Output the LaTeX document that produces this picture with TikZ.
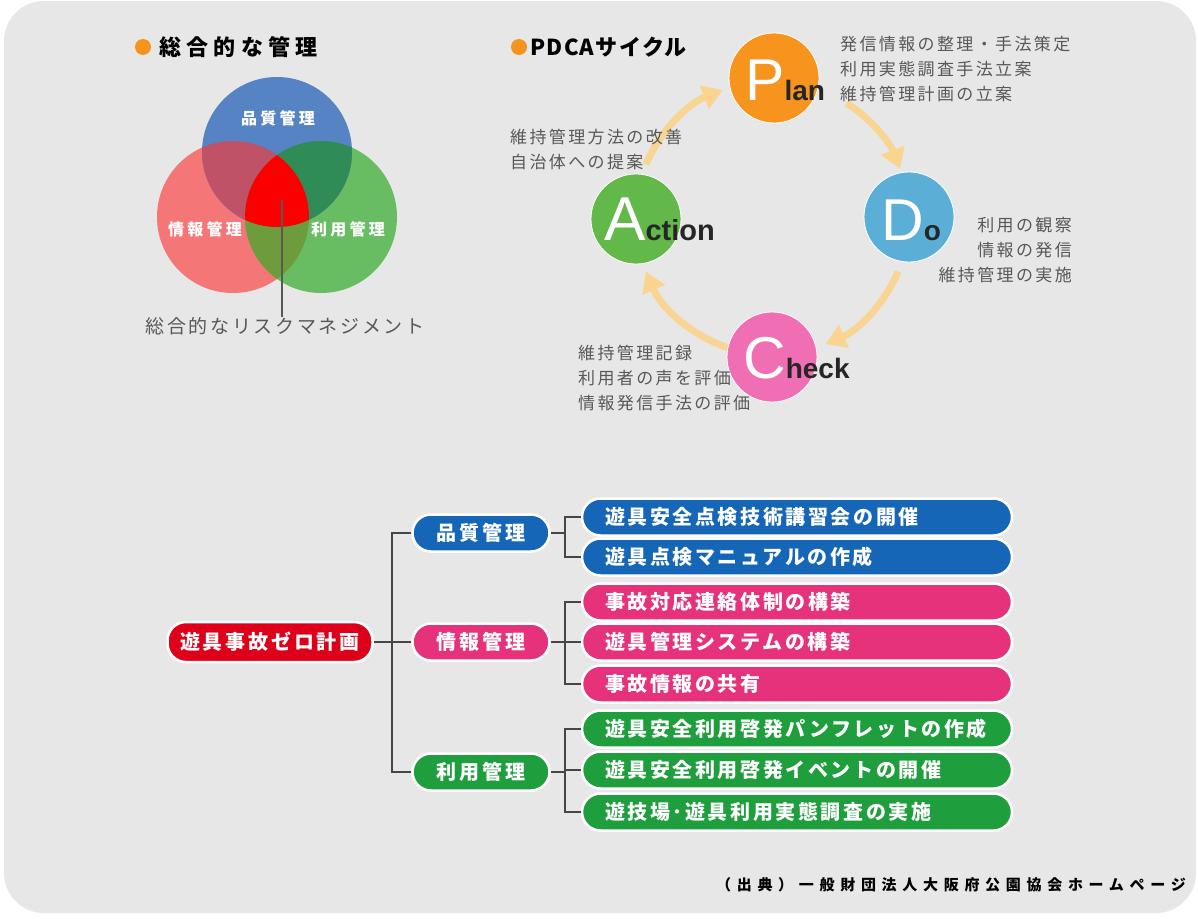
\documentclass[tikz,border=0pt]{standalone}
\usepackage{fontspec}
\setmainfont{Liberation Sans}
\newfontfamily\jp{Noto Sans CJK JP}
\usetikzlibrary{arrows.meta,calc}
\definecolor{bg}{RGB}{231,231,231}
\definecolor{bullet}{RGB}{247,148,29}
\definecolor{vblue}{RGB}{86,131,196}
\definecolor{vred}{RGB}{245,118,118}
\definecolor{vgreen}{RGB}{104,188,98}
\definecolor{vrb}{RGB}{192,82,104}
\definecolor{vgb}{RGB}{48,140,86}
\definecolor{vrg}{RGB}{110,156,60}
\definecolor{vcen}{RGB}{250,0,0}
\definecolor{desc}{RGB}{88,88,88}
\definecolor{cP}{RGB}{247,148,29}
\definecolor{cD}{RGB}{91,175,214}
\definecolor{cC}{RGB}{240,110,180}
\definecolor{cA}{RGB}{98,184,72}
\definecolor{arr}{RGB}{252,212,140}
\definecolor{tblue}{RGB}{22,102,184}
\definecolor{tpink}{RGB}{230,50,122}
\definecolor{tgreen}{RGB}{30,158,60}
\definecolor{tred}{RGB}{222,0,26}
\definecolor{conn}{RGB}{70,70,70}
\tikzset{
  pill/.style={rectangle, rounded corners=18.5pt, minimum height=37pt, draw=white, line width=2.5pt,
     text=white, inner sep=0pt, font=\jp\bfseries\fontsize{20}{20}\selectfont\addfontfeature{LetterSpace=14}},
  leaf/.style={pill, minimum width=430pt, text width=384pt, align=left, inner xsep=23pt,
     font=\jp\bfseries\fontsize{20}{20}\selectfont\addfontfeature{LetterSpace=13}},
  cyc/.style={circle, minimum size=90pt, inner sep=0pt, draw=white, line width=0.8pt},
  big/.style={anchor=base west, inner sep=0pt},
  dtext/.style={text=desc, inner sep=0pt, align=left, font=\jp\fontsize{17}{25}\selectfont\addfontfeature{LetterSpace=14}},
  cyarrow/.style={draw=arr, line width=7pt, -{Triangle[width=24pt,length=20pt]}, opacity=0.9},
  tline/.style={draw=conn, line width=2.5pt},
  vlab/.style={text=white, inner sep=0pt, font=\jp\bfseries\fontsize{16}{16}\selectfont\addfontfeature{LetterSpace=20}},
  ttl/.style={anchor=west, inner sep=0pt, font=\jp\bfseries\fontsize{22}{22}\selectfont\addfontfeature{LetterSpace=24}},
  dot/.style={circle, fill=bullet, minimum size=16pt, inner sep=0pt}
}
\begin{document}
\begin{tikzpicture}[x=1pt,y=-1pt]
\useasboundingbox (0,0) rectangle (1198,918);
\fill[white] (0,0) rectangle (1198,918);
\fill[bg, rounded corners=40pt] (4,1) rectangle (1196,913);

% ---------- Venn ----------
\node[dot] (b1) at (143,47) {};
\node[ttl] (t1) at (159,47) {総合的な管理};
\coordinate (vb) at (277,152);
\coordinate (vr) at (233,217);
\coordinate (vg) at (321,217);
\fill[vred] (vr) circle[radius=76];
\fill[vgreen] (vg) circle[radius=76];
\fill[vblue] (vb) circle[radius=75];
\begin{scope}\clip (vr) circle[radius=76]; \fill[vrb] (vb) circle[radius=75];\end{scope}
\begin{scope}\clip (vg) circle[radius=76]; \fill[vgb] (vb) circle[radius=75];\end{scope}
\begin{scope}\clip (vr) circle[radius=76]; \fill[vrg] (vg) circle[radius=76];\end{scope}
\begin{scope}\clip (vr) circle[radius=76]; \clip (vg) circle[radius=76]; \fill[vcen] (vb) circle[radius=75];\end{scope}
\node[vlab] (q1) at (278,118) {品質管理};
\node[vlab] (q2) at (205,229) {情報管理};
\node[vlab] (q3) at (348,229) {利用管理};
\coordinate (vc) at (282,200);
\node[text=desc, inner sep=0pt, font=\jp\fontsize{19}{19}\selectfont\addfontfeature{LetterSpace=14}] (vl) at (285,326) {総合的なリスクマネジメント};
\draw[desc, line width=1.2pt] (vc) -- (vc |- vl.north);

% ---------- PDCA ----------
\node[dot] (b2) at (519,47) {};
\node[ttl, font=\jp\bfseries\fontsize{22}{22}\selectfont\addfontfeature{LetterSpace=6}] (t2) at (530,47) {PDCAサイクル};
\coordinate (cy) at (772,218);
\draw[cyarrow] ([shift={(-157:137)}]cy) arc[start angle=-157, end angle=-111, radius=137];
\draw[cyarrow] ([shift={(-57:137)}]cy) arc[start angle=-57, end angle=-21, radius=137];
\draw[cyarrow] ([shift={(23:137)}]cy) arc[start angle=23, end angle=67, radius=137];
\draw[cyarrow] ([shift={(106:137)}]cy) arc[start angle=106, end angle=157, radius=137];

\node[cyc, fill=cP] (P) at (774,78) {};
\node[cyc, fill=cD] (D) at (909,217) {};
\node[cyc, fill=cC] (C) at (772,357) {};
\node[cyc, fill=cA] (A) at (636,219) {};
\node[big] (Pl) at (745,100) {\textcolor{white}{\fontsize{59}{59}\selectfont P}\textcolor{black!85}{\bfseries\fontsize{28}{28}\selectfont lan}};
\node[big] (Dl) at (881,240) {\textcolor{white}{\fontsize{59}{59}\selectfont D}\textcolor{black!85}{\bfseries\fontsize{28}{28}\selectfont o}};
\node[big] (Cl) at (743,378) {\textcolor{white}{\fontsize{59}{59}\selectfont C}\textcolor{black!85}{\bfseries\fontsize{28}{28}\selectfont heck}};
\node[big] (Al) at (604,240) {\textcolor{white}{\fontsize{62}{62}\selectfont A}\textcolor{black!85}{\bfseries\fontsize{29}{29}\selectfont ction}};

\node[dtext, anchor=north west] (Pt) at (840,36) {発信情報の整理・手法策定\\利用実態調査手法立案\\維持管理計画の立案};
\node[dtext, anchor=north west] (At) at (510,129) {維持管理方法の改善\\自治体への提案};
\node[dtext, anchor=north east, align=right] (Dt) at (1072,217) {利用の観察\\情報の発信\\維持管理の実施};
\node[dtext, anchor=north west] (Ct) at (578,345) {維持管理記録\\利用者の声を評価\\情報発信手法の評価};

% ---------- Tree ----------
\node[pill, fill=tred, minimum width=205pt, minimum height=40pt] (root) at (270,642) {遊具事故ゼロ計画};
\node[pill, fill=tblue, minimum width=137pt] (m1) at (481,533) {品質管理};
\node[pill, fill=tpink, minimum width=137pt] (m2) at (481,642) {情報管理};
\node[pill, fill=tgreen, minimum width=137pt] (m3) at (481,772) {利用管理};

\node[leaf, fill=tblue] (l11) at (797,517) {遊具安全点検技術講習会の開催};
\node[leaf, fill=tblue] (l12) at (797,557) {遊具点検マニュアルの作成};
\node[leaf, fill=tpink] (l21) at (797,602) {事故対応連絡体制の構築};
\node[leaf, fill=tpink] (l22) at (797,642) {遊具管理システムの構築};
\node[leaf, fill=tpink] (l23) at (797,684) {事故情報の共有};
\node[leaf, fill=tgreen] (l31) at (797,729) {遊具安全利用啓発パンフレットの作成};
\node[leaf, fill=tgreen] (l32) at (797,770) {遊具安全利用啓発イベントの開催};
\node[leaf, fill=tgreen] (l33) at (797,812) {遊技場･遊具利用実態調査の実施};

\coordinate (tk) at (392,0);
\coordinate (tj) at (565,0);
\draw[tline] (root.east) -- (m2.west);
\draw[tline] (m1.west) -- (m1.west -| tk) -- (m3.west -| tk) -- (m3.west);
\draw[tline] (m1.east) -- (m1.east -| tj);
\draw[tline] (l11.west) -- (l11.west -| tj) -- (l12.west -| tj) -- (l12.west);
\draw[tline] (m2.east) -- (l22.west);
\draw[tline] (l21.west) -- (l21.west -| tj) -- (l23.west -| tj) -- (l23.west);
\draw[tline] (m3.east) -- (m3.east -| tj);
\draw[tline] (l32.west) -- (l32.west -| tj);
\draw[tline] (l31.west) -- (l31.west -| tj) -- (l33.west -| tj) -- (l33.west);

\node[anchor=east, inner sep=0pt, font=\jp\bfseries\fontsize{15}{15}\selectfont\addfontfeature{LetterSpace=38}] (src) at (1186,885) {（出典）一般財団法人大阪府公園協会ホームページ};
\end{tikzpicture}
\end{document}
